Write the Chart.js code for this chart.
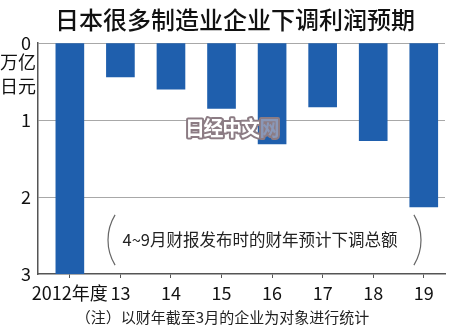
<!DOCTYPE html>
<html>
<head>
<meta charset="utf-8">
<title>日本很多制造业企业下调利润预期</title>
<script src="https://cdn.jsdelivr.net/npm/chart.js@4.4.1/dist/chart.umd.min.js"></script>
<style>
  html, body { margin: 0; padding: 0; background: #fff; }
  #wrap { width: 450px; height: 334px; }
</style>
</head>
<body>
<div id="wrap"><canvas id="c" width="450" height="334"></canvas></div>
<script>
  const categories = ['2012年度', '13', '14', '15', '16', '17', '18', '19'];
  const cuts = [3.0, 0.44, 0.6, 0.85, 1.31, 0.83, 1.27, 2.13];   // 万亿日元
  const titleText = '日本很多制造业企业下调利润预期';
  const unitLines = ['万亿', '日元'];
  const noteText = '4~9月财报发布时的财年预计下调总额';
  const footText = '（注）以财年截至3月的企业为对象进行统计';
  const markText = '日经中文网';

  const CJK = '"Noto Sans CJK SC", sans-serif';
  const NUM = '"Liberation Sans Narrow", "Noto Sans CJK SC", sans-serif';

  // title, unit, bracketed note and watermark
  const extras = {
    id: 'extras',
    afterDatasetsDraw(chart) {
      const ctx = chart.ctx;
      ctx.save();
      ctx.textBaseline = 'middle';
      ctx.textAlign = 'left';
      ctx.font = 'bold 20px ' + CJK;
      ctx.lineJoin = 'round';
      ctx.lineWidth = 4;
      ctx.strokeStyle = '#8c7c84';
      let x = 185;
      for (const ch of markText) {
        ctx.strokeText(ch, x, 128);
        ctx.fillStyle = ch === '网' ? '#8a98b8' : '#fff';
        ctx.fillText(ch, x, 128);
        x += 18.6;
      }
      ctx.restore();
    },
    afterDraw(chart) {
      const ctx = chart.ctx;
      ctx.save();
      ctx.fillStyle = '#111';
      ctx.textBaseline = 'middle';
      ctx.textAlign = 'center';
      ctx.font = '500 24px ' + CJK;
      ctx.fillText(titleText, 235, 20);

      ctx.font = '18px ' + CJK;
      ctx.fillText(unitLines[0], 18, 62);
      ctx.fillText(unitLines[1], 18, 86);

      ctx.fillStyle = '#222';
      ctx.font = '16.5px ' + NUM;
      ctx.fillText(noteText, 260, 240);

      ctx.strokeStyle = '#666';
      ctx.lineWidth = 1.2;
      ctx.beginPath();
      ctx.arc(156, 240, 48, Math.PI - 0.55, Math.PI + 0.55);
      ctx.stroke();
      ctx.beginPath();
      ctx.arc(373, 240, 48, -0.55, 0.55);
      ctx.stroke();
      ctx.restore();
    }
  };

  new Chart(document.getElementById('c'), {
    type: 'bar',
    data: {
      datasets: [{
        data: cuts.map((v, i) => ({ x: i, y: v })),
        backgroundColor: '#1f5fad',
        barThickness: 28
      }]
    },
    options: {
      responsive: false,
      animation: false,
      layout: { padding: { top: 43, right: 5, left: 0, bottom: 0 } },
      plugins: {
        legend: { display: false },
        tooltip: { enabled: false },
        subtitle: {
          display: true, position: 'bottom', text: footText,
          color: '#222', font: { family: NUM, size: 15, weight: 'normal' },
          padding: { top: 0, bottom: 8 }
        }
      },
      scales: {
        x: {
          type: 'linear', min: -0.63, max: 7.42, offset: false,
          ticks: {
            stepSize: 1, includeBounds: false, autoSkip: false, maxRotation: 0,
            callback: v => Number.isInteger(v) ? categories[v] : '',
            font: { family: NUM, size: 18 }, color: '#111', padding: 4
          },
          grid: { offset: false, drawOnChartArea: false, drawTicks: true, tickLength: 4, color: '#555' },
          border: { color: '#555', width: 1.5 },
          afterFit: s => { s.height = 34; }
        },
        y: {
          reverse: true, min: 0, max: 3,
          ticks: { stepSize: 1, font: { family: NUM, size: 18 }, color: '#111', padding: 7 },
          grid: {
            drawTicks: false,
            color: c => c.tick && c.tick.value === 3 ? 'rgba(0,0,0,0)' : '#a8a8a8'
          },
          border: { color: '#555', width: 1.5 },
          afterFit: s => { s.width = 38; }
        }
      }
    },
    plugins: [extras]
  });
</script>
</body>
</html>
